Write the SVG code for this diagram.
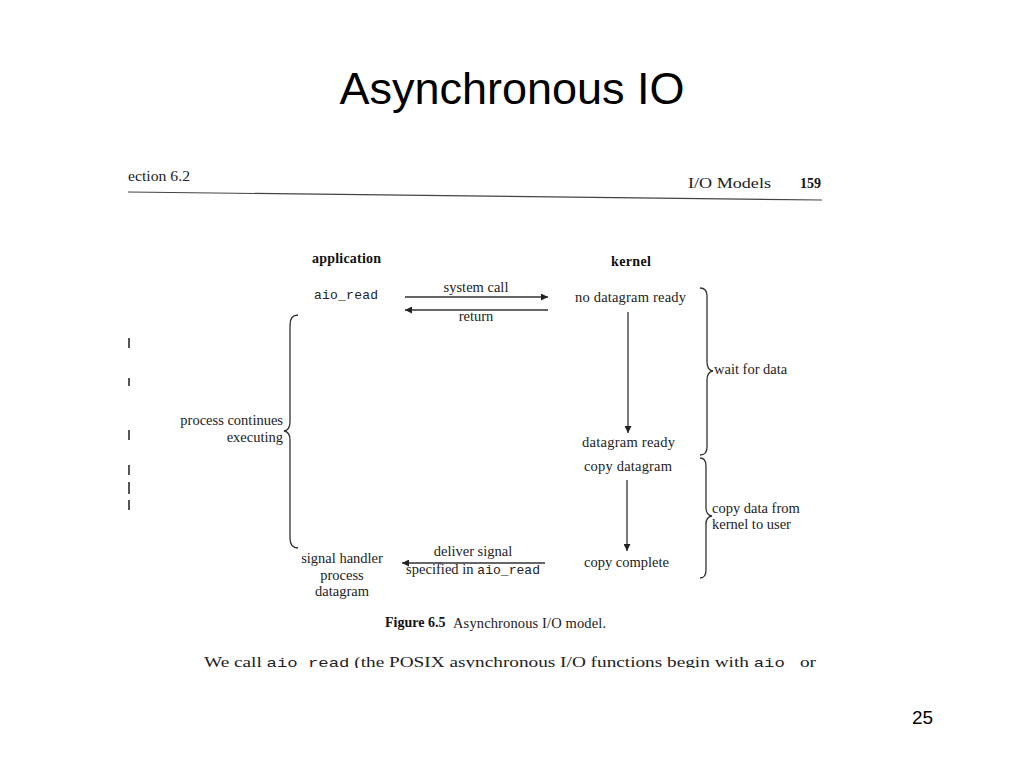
<svg xmlns="http://www.w3.org/2000/svg" width="1024" height="768" viewBox="0 0 1024 768">
<style>
.s{font-family:"Liberation Serif",serif;font-size:14.5px;fill:#222}
.m{font-family:"Liberation Mono",monospace;font-size:13px;fill:#222}
.b{font-family:"Liberation Serif",serif;font-size:14px;font-weight:bold;fill:#111}
.ln{stroke:#333;stroke-width:1.3;fill:none}
</style>
<defs>
<marker id="ah" viewBox="0 0 10 10" refX="10" refY="5" markerWidth="10" markerHeight="7" markerUnits="userSpaceOnUse" orient="auto"><path d="M0,0L10,5L0,10z" fill="#222"/></marker>
<clipPath id="cl"><rect x="0" y="640" width="1024" height="28"/></clipPath>
</defs>
<rect width="1024" height="768" fill="#fff"/>
<text x="512" y="104" text-anchor="middle" font-family="Liberation Sans,sans-serif" font-size="45" fill="#000">Asynchronous IO</text>
<text x="912" y="724" font-family="Liberation Sans,sans-serif" font-size="19" fill="#000">25</text>
<g id="header">
<text x="128" y="181" class="s" font-size="16" textLength="62" lengthAdjust="spacingAndGlyphs">ection 6.2</text>
<text x="688" y="188" class="s" font-size="17" textLength="83" lengthAdjust="spacingAndGlyphs">I/O Models</text>
<text x="800" y="188" class="b" font-size="14">159</text>
<line x1="128" y1="192" x2="822" y2="200" stroke="#444" stroke-width="1.2"/>
</g>
<g id="application"><text x="312" y="263" class="b" textLength="69">application</text></g>
<g id="kernel"><text x="611" y="266" class="b" textLength="40">kernel</text></g>
<g id="aio_read"><text x="314" y="299" class="m" textLength="64">aio_read</text></g>
<g id="no_datagram"><text x="575" y="302" class="s" textLength="111">no datagram ready</text></g>
<g id="datagram_ready"><text x="582" y="447" class="s" textLength="93">datagram ready</text></g>
<g id="copy_datagram"><text x="584" y="471" class="s" textLength="88">copy datagram</text></g>
<g id="copy_complete"><text x="584" y="567" class="s" textLength="85">copy complete</text></g>
<g id="process_continues"><text x="283" y="425" class="s" text-anchor="end">process continues</text><text x="283" y="442" class="s" text-anchor="end">executing</text></g>
<g id="signal_handler"><text x="342" y="563" class="s" text-anchor="middle">signal handler</text><text x="342" y="580" class="s" text-anchor="middle">process</text><text x="342" y="596" class="s" text-anchor="middle">datagram</text></g>
<g id="wait"><text x="714" y="374" class="s">wait for data</text></g>
<g id="copydata"><text x="712" y="513" class="s">copy data from</text><text x="712" y="529" class="s">kernel to user</text></g>
<g id="braces" class="ln">
<path d="M298,315 Q290,315 290,325 L290,422 Q290,430 284,431 Q290,432 290,440 L290,538 Q290,548 298,548"/>
<path d="M700,288 Q707,288 707,296 L707,362 Q707,370 713,371 Q707,372 707,380 L707,447 Q707,455 700,455"/>
<path d="M700,458 Q706,458 706,466 L706,508 Q706,515 712,516 Q706,517 706,524 L706,570 Q706,578 700,578"/>
</g>
<g id="connectors" class="ln">
<line x1="405" y1="297" x2="548" y2="297" marker-end="url(#ah)"/>
<line x1="548" y1="310" x2="405" y2="310" marker-end="url(#ah)"/>
<line x1="628" y1="312" x2="628" y2="433" marker-end="url(#ah)"/>
<line x1="627" y1="480" x2="627" y2="551" marker-end="url(#ah)"/>
<line x1="545" y1="563" x2="402" y2="563" marker-end="url(#ah)"/>
</g>
<g id="labels">
<text x="476" y="292" class="s" text-anchor="middle">system call</text>
<text x="476" y="321" class="s" text-anchor="middle">return</text>
<text x="473" y="556" class="s" text-anchor="middle">deliver signal</text>
<text x="406" y="574" class="s" textLength="134">specified in <tspan class="m">aio_read</tspan></text>
</g>
<g id="caption"><text x="385" y="627" class="b" font-size="13">Figure 6.5</text><text x="453" y="628" class="s" textLength="153">Asynchronous I/O model.</text></g>
<g clip-path="url(#cl)"><text x="204" y="667" class="s" font-size="18" textLength="612" lengthAdjust="spacingAndGlyphs">We call <tspan class="m" font-size="17">aio read</tspan> (the POSIX asynchronous I/O functions begin with <tspan class="m" font-size="17">aio_</tspan> or</text></g>
<g fill="#555"><rect x="128" y="338" width="2" height="10"/><rect x="128" y="378" width="2" height="8"/><rect x="128" y="430" width="2" height="10"/><rect x="128" y="465" width="2" height="10"/><rect x="128" y="482" width="2" height="12"/><rect x="128" y="500" width="2" height="10"/></g>
</svg>
